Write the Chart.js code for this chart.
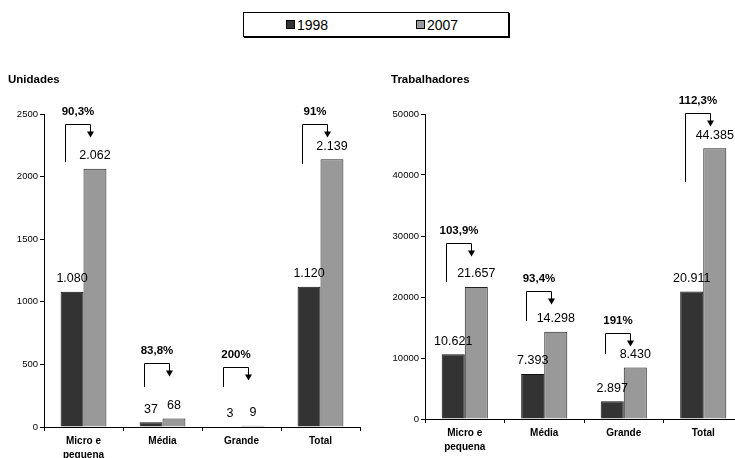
<!DOCTYPE html>
<html>
<head>
<meta charset="utf-8">
<script src="https://cdn.jsdelivr.net/npm/chart.js@4.4.1/dist/chart.umd.min.js"></script>
<style>
    body { margin: 0; width: 735px; height: 458px; overflow: hidden; background: #fff; position: relative; font-family: "Liberation Sans", Arial, sans-serif; }
    canvas { position: absolute; top: 60px; }
    #chartUnidades { left: 0; }
    #chartTrabalhadores { left: 368px; }
    #legenda { position: absolute; left: 243px; top: 12px; width: 264px; height: 23px; border: 1px solid #000; box-shadow: 1px 1px 0 #000; }
    .item { position: absolute; top: 5px; font-size: 14px; line-height: 14px; color: #000; }
    .swatch { display: inline-block; width: 7px; height: 7px; border: 1px solid #000; margin-right: 2px; vertical-align: 1px; }
</style>
</head>
<body>
<div id="legenda"></div>
<canvas id="chartUnidades" width="368" height="398"></canvas>
<canvas id="chartTrabalhadores" width="380" height="398"></canvas>
<script>
const categorias = [["Micro e", "pequena"], "Média", "Grande", "Total"];
const anos = ["1998", "2007"];

const unidades1998 = [1080, 37, 3, 1120];
const unidades2007 = [2062, 68, 9, 2139];
const unidadesVariacao = ["90,3%", "83,8%", "200%", "91%"];
// nivel das setas de variacao, em unidades do eixo
const unidadesSetaTopo = [2420, 510, 480, 2420];
const unidadesSetaBase = [2115, 320, 320, 2100];

const trabalhadores1998 = [10621, 7393, 2897, 20911];
const trabalhadores2007 = [21657, 14298, 8430, 44385];
const trabalhadoresVariacao = ["103,9%", "93,4%", "191%", "112,3%"];
const trabalhadoresSetaTopo = [28850, 21000, 14100, 50150];
const trabalhadoresSetaBase = [22450, 16050, 10650, 38850];

const corEscura = "#333333";
const corClara = "#999999";

Chart.defaults.font.family = '"Liberation Sans", Arial, sans-serif';
Chart.defaults.color = "#000";

function milhar(v) {
    return String(v).replace(/\B(?=(\d{3})+(?!\d))/g, ".");
}

const rotulosPlugin = {
    id: "rotulos",
    afterDatasetsDraw(chart) {
        const ctx = chart.ctx;
        ctx.save();
        ctx.fillStyle = "#000";
        ctx.textAlign = "center";
        ctx.textBaseline = "middle";
        ctx.font = '12.5px "Liberation Sans", Arial, sans-serif';
        chart.data.datasets.forEach((ds, d) => {
            chart.getDatasetMeta(d).data.forEach((bar, i) => {
                ctx.fillText(milhar(ds.data[i]), bar.x, bar.y - 13);
            });
        });

        // setas de variacao
        const opts = chart.options.plugins.rotulos;
        const y = chart.scales.y;
        const m0 = chart.getDatasetMeta(0).data;
        const m1 = chart.getDatasetMeta(1).data;
        ctx.strokeStyle = "#000";
        ctx.lineWidth = 1;
        ctx.font = 'bold 11.5px "Liberation Sans", Arial, sans-serif';
        opts.variacao.forEach((txt, i) => {
            const xL = Math.round(m0[i].x - 7) + 0.5;
            const xR = Math.round(m1[i].x - 5) + 0.5;
            const yT = Math.round(y.getPixelForValue(opts.topo[i])) + 0.5;
            const yB = y.getPixelForValue(opts.base[i]);
            ctx.beginPath();
            ctx.moveTo(xL, yB);
            ctx.lineTo(xL, yT);
            ctx.lineTo(xR, yT);
            ctx.lineTo(xR, yT + 8);
            ctx.stroke();
            ctx.beginPath();
            ctx.moveTo(xR - 3.5, yT + 7);
            ctx.lineTo(xR + 3.5, yT + 7);
            ctx.lineTo(xR, yT + 13);
            ctx.closePath();
            ctx.fill();
            ctx.fillText(txt, (xL + xR) / 2, yT - 13);
        });
        ctx.restore();
    }
};

function montarGrafico(id, titulo, serie1, serie2, maximo, passo, variacao, topo, base, larguraY, alturaX, padEsq, padDir) {
    return new Chart(document.getElementById(id), {
        type: "bar",
        data: {
            labels: categorias,
            datasets: [
                {label: anos[0], data: serie1, backgroundColor: corEscura, borderColor: "#111", borderWidth: 1},
                {label: anos[1], data: serie2, backgroundColor: corClara, borderColor: "#222", borderWidth: 1}
            ]
        },
        options: {
            responsive: false,
            animation: false,
            devicePixelRatio: 1,
            layout: {padding: {left: padEsq, right: padDir, top: 0, bottom: 0}},
            datasets: {bar: {barPercentage: 1, categoryPercentage: 0.58}},
            scales: {
                x: {
                    grid: {drawOnChartArea: false, tickLength: 4, color: "#000", offset: true},
                    border: {color: "#000"},
                    ticks: {font: {size: 10, weight: "bold", lineHeight: 1.4}, padding: 3, maxRotation: 0, autoSkip: false},
                    afterFit: (s) => { s.height = alturaX; }
                },
                y: {
                    min: 0,
                    max: maximo,
                    grid: {drawOnChartArea: false, tickLength: 4, color: "#000"},
                    border: {color: "#000"},
                    ticks: {stepSize: passo, font: {size: 9.5}, padding: 2, callback: (v) => String(v)},
                    afterFit: (s) => { s.width = larguraY; }
                }
            },
            plugins: {
                legend: {display: false},
                tooltip: {enabled: false},
                title: {
                    display: true,
                    text: titulo,
                    align: "start",
                    font: {size: 11.5, weight: "bold", lineHeight: 1.2},
                    padding: {top: 13, bottom: 27.2}
                },
                rotulos: {variacao: variacao, topo: topo, base: base}
            }
        },
        plugins: [rotulosPlugin]
    });
}

const g1 = montarGrafico("chartUnidades", "Unidades", unidades1998, unidades2007, 2500, 500,
    unidadesVariacao, unidadesSetaTopo, unidadesSetaBase, 36, 31, 8, 8);
montarGrafico("chartTrabalhadores", "Trabalhadores", trabalhadores1998, trabalhadores2007, 50000, 10000,
    trabalhadoresVariacao, trabalhadoresSetaTopo, trabalhadoresSetaBase, 34, 39, 23, 5);

// legenda comum
const legenda = document.getElementById("legenda");
const posicoes = [42, 172];
g1.data.datasets.forEach((ds, i) => {
    const item = document.createElement("div");
    item.className = "item";
    item.style.left = posicoes[i] + "px";
    item.innerHTML = '<span class="swatch" style="background:' + ds.backgroundColor + '"></span>' + ds.label;
    legenda.appendChild(item);
});
</script>
</body>
</html>
